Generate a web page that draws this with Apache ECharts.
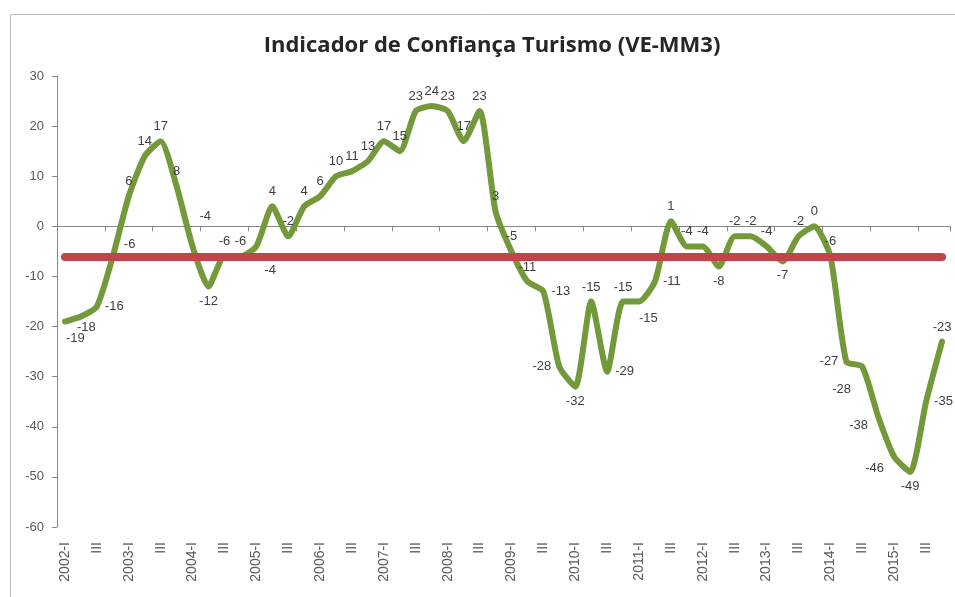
<!DOCTYPE html>
<html>
<head>
<meta charset="utf-8">
<script src="https://cdn.jsdelivr.net/npm/echarts@6/dist/echarts.min.js"></script>
<style>
  html, body { margin: 0; padding: 0; background: #fff; }
  #chart { width: 955px; height: 597px; }
</style>
</head>
<body>
<div id="chart"></div>
<script>
  // trimestres 2002-I .. 2015-IV
  const years = [2002, 2003, 2004, 2005, 2006, 2007, 2008, 2009, 2010, 2011, 2012, 2013, 2014, 2015];
  const quarters = ["I", "II", "III", "IV"];
  const categories = [];
  years.forEach(y => quarters.forEach(q => categories.push(q === "I" ? y + "-I" : q)));

  // indicador de confiança (VE-MM3)
  const confianca = [
    -19, -18, -16, -6, 6, 14, 17, 8,
    -4, -12, -6, -6, -4, 4, -2, 4,
    6, 10, 11, 13, 17, 15, 23, 24,
    23, 17, 23, 3, -5, -11, -13, -28,
    -32, -15, -29, -15, -15, -11, 1, -4,
    -4, -8, -2, -2, -4, -7, -2, 0,
    -6, -27, -28, -38, -46, -49, -35, -23
  ];
  const media = -6;

  const yTicks = { min: -60, max: 30, interval: 10 };

  // posição das etiquetas (como no Excel); [dx, dy] = deslocamento em px
  const labelPos = [
    [2, 11], [-3, 5], "right", [12, -17], "top", "top", "top", "top",
    [8, -35], "bottom", "top", "top", [9, 19], "top", "top", "top",
    "top", "top", "top", "top", "top", "top", "top", "top",
    "top", "top", "top", "top", "top", "top", "right", "left",
    "bottom", "top", "right", "top", [1, 11], "right", "top", "top",
    "top", "bottom", "top", "top", "top", "bottom", "top", "top",
    "top", "left", [-29, 17], [-28, 3], [-28, 6], "bottom", "right", "top"
  ];

  const chart = echarts.init(document.getElementById("chart"));
  const font = "'Liberation Sans', Arial, sans-serif";

  chart.setOption({
    animation: false,
    textStyle: { fontFamily: font },
    title: {
      text: "Indicador de Confiança Turismo (VE-MM3)",
      left: 487,
      textAlign: "center",
      top: 30,
      textStyle: { fontFamily: "'Open Sans', sans-serif", fontSize: 22, fontWeight: "bold", color: "#262626" }
    },
    graphic: [{
      type: "rect",
      shape: { x: 10.5, y: 14.5, width: 960, height: 600 },
      style: { fill: null, stroke: "#b8b8b8", lineWidth: 1 },
      silent: true
    }],
    grid: { left: 57, right: 5, top: 76, bottom: 70 },
    xAxis: [
      {
        type: "category",
        data: categories,
        position: "bottom",
        axisLine: { show: false, onZero: false },
        axisTick: { show: false },
        axisLabel: { interval: 1, rotate: 90, margin: 15, fontSize: 14, color: "#595959" }
      },
      {
        type: "category",
        data: categories,
        position: "bottom",
        axisLine: { show: true, onZero: true, lineStyle: { color: "#868686", width: 1 } },
        axisTick: { show: true, length: 5, lineStyle: { color: "#868686" } },
        axisLabel: { show: false }
      }
    ],
    yAxis: {
      type: "value",
      min: yTicks.min,
      max: yTicks.max,
      interval: yTicks.interval,
      axisLine: { show: true, lineStyle: { color: "#868686" } },
      axisTick: { show: true, length: 5, lineStyle: { color: "#868686" } },
      splitLine: { show: false },
      axisLabel: { fontSize: 13, color: "#595959", margin: 13 }
    },
    series: [
      {
        name: "Confiança",
        type: "line",
        xAxisIndex: 0,
        data: confianca,
        smooth: 0.2,
        symbol: "none",
        lineStyle: { color: "#73993A", width: 6, cap: "round", join: "round" },
        z: 2
      },
      {
        name: "Média",
        type: "line",
        xAxisIndex: 0,
        data: [],
        markLine: {
          silent: true,
          symbol: "none",
          label: { show: false },
          lineStyle: { color: "#C0444A", width: 8, type: "solid", cap: "round" },
          data: [[{ coord: [0, media] }, { coord: [categories.length - 1, media] }]]
        },
        z: 3
      },
      {
        // etiquetas por cima das duas linhas
        name: "Etiquetas",
        type: "line",
        xAxisIndex: 0,
        data: confianca.map((v, i) => ({ value: v, label: { position: labelPos[i] } })),
        showSymbol: true,
        symbol: "circle",
        symbolSize: 2,
        itemStyle: { color: "rgba(0,0,0,0)", borderWidth: 0 },
        lineStyle: { width: 0, opacity: 0 },
        label: {
          show: true,
          fontSize: 13,
          color: "#404040",
          distance: 7
        },
        labelLayout: { hideOverlap: false },
        silent: true,
        z: 4
      }
    ]
  });
</script>
</body>
</html>
